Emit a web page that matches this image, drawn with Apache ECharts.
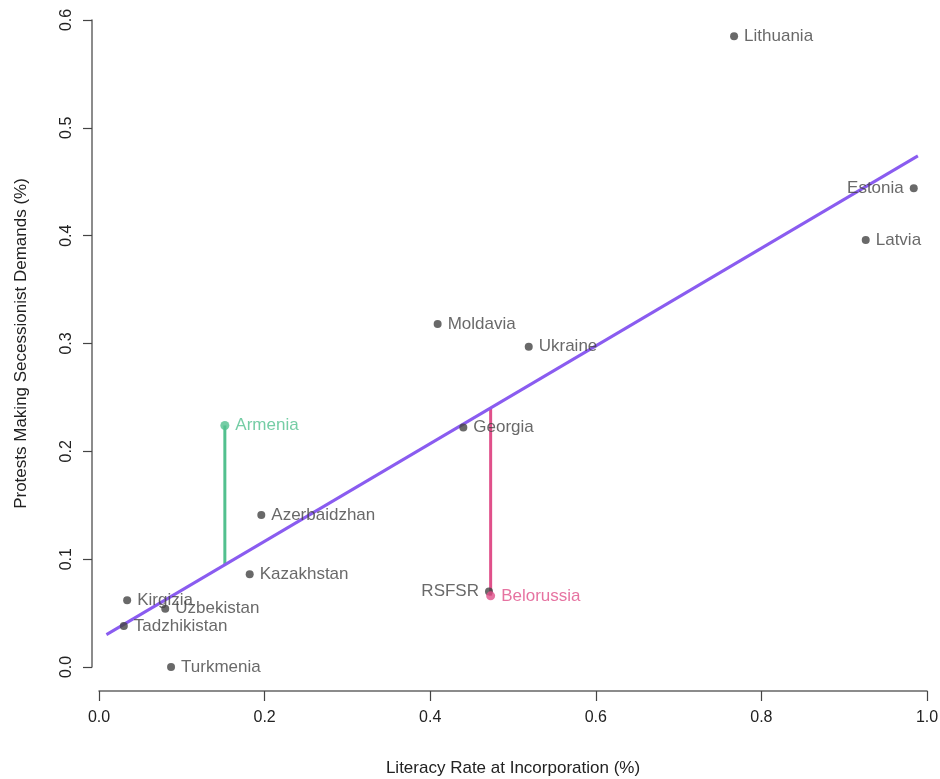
<!DOCTYPE html>
<html>
<head>
<meta charset="utf-8">
<script src="https://cdn.jsdelivr.net/npm/echarts@6/dist/echarts.min.js"></script>
<style>html,body{margin:0;padding:0;background:#fff}#c{width:940px;height:779px}</style>
</head>
<body>
<div id="c"></div>
<script>
// Data
const republics = ['Lithuania','Estonia','Latvia','Moldavia','Ukraine','Georgia','Azerbaidzhan','Kazakhstan','Kirgizia','Uzbekistan','Tadzhikistan','Turkmenia','RSFSR'];
const literacy  = [0.767, 0.984, 0.926, 0.409, 0.519, 0.440, 0.196, 0.182, 0.034, 0.080, 0.030, 0.087, 0.471];
const secession = [0.585, 0.444, 0.396, 0.318, 0.297, 0.222, 0.141, 0.086, 0.062, 0.054, 0.038, 0.000, 0.070];

const highlightNames = ['Armenia', 'Belorussia'];
const highlightX     = [0.152, 0.473];
const highlightY     = [0.224, 0.066];
const highlightFit   = [0.095, 0.240];

const fitX = [0.009, 0.989];
const fitY = [0.030, 0.474];

const xTicks = [0, 0.2, 0.4, 0.6, 0.8, 1.0];
const yTicks = [0, 0.1, 0.2, 0.3, 0.4, 0.5, 0.6];

// Styles
const FONT = 'Liberation Sans, Arial, Helvetica, sans-serif';
const GRAY = '#444444';
const PURPLE = '#8a5cf0';
const hlColors = ['#52c08e', '#e0508a'];
const leftLabeled = ['Estonia', 'RSFSR'];

const chart = echarts.init(document.getElementById('c'), null, {renderer: 'canvas'});

const grayData = republics.map((n, i) => ({
  name: n,
  value: [literacy[i], secession[i]],
  label: {position: leftLabeled.includes(n) ? 'left' : 'right'}
}));

const series = [];
series.push({
  type: 'line', data: fitX.map((x, i) => [x, fitY[i]]),
  symbol: 'none', lineStyle: {color: PURPLE, width: 3}, z: 3, silent: true, clip: false
});
highlightNames.forEach((n, i) => {
  series.push({
    type: 'line', data: [[highlightX[i], highlightY[i]], [highlightX[i], highlightFit[i]]],
    symbol: 'none', lineStyle: {color: hlColors[i], width: 3}, z: 2, silent: true, clip: false
  });
  series.push({
    type: 'scatter', symbolSize: 9, z: 5, clip: false,
    data: [{name: n, value: [highlightX[i], highlightY[i]]}],
    itemStyle: {color: hlColors[i]},
    label: {show: true, position: 'right', distance: 6, formatter: '{b}', color: hlColors[i], fontSize: 17, fontFamily: FONT}
  });
});
series.push({
  type: 'scatter', symbolSize: 8, z: 4, clip: false,
  data: grayData,
  itemStyle: {color: GRAY},
  label: {show: true, distance: 6, formatter: '{b}', color: GRAY, fontSize: 17, fontFamily: FONT}
});

chart.setOption({
  animation: false,
  backgroundColor: '#fff',
  grid: {left: 99, right: 13, top: 20, bottom: 112, containLabel: false, outerBoundsMode: 'none'},
  xAxis: {
    type: 'value', min: xTicks[0], max: xTicks[xTicks.length - 1], interval: 0.2,
    offset: 24,
    name: 'Literacy Rate at Incorporation (%)', nameLocation: 'middle', nameGap: 69,
    nameMoveOverlap: false,
    nameTextStyle: {color: '#222', fontSize: 17, fontFamily: FONT},
    axisLine: {show: true, onZero: false, lineStyle: {color: '#666', width: 1.5}},
    axisTick: {show: true, length: 10, lineStyle: {color: '#444', width: 1.2}},
    axisLabel: {color: '#222', fontSize: 16, fontFamily: FONT, margin: 19, formatter: v => v.toFixed(1)},
    splitLine: {show: false}
  },
  yAxis: {
    type: 'value', min: yTicks[0], max: yTicks[yTicks.length - 1], interval: 0.1,
    offset: 7,
    name: 'Protests Making Secessionist Demands (%)', nameLocation: 'middle', nameGap: 62,
    nameMoveOverlap: false,
    nameTextStyle: {color: '#222', fontSize: 17, fontFamily: FONT},
    axisLine: {show: true, onZero: false, lineStyle: {color: '#666', width: 1.5}},
    axisTick: {show: true, length: 9, lineStyle: {color: '#444', width: 1.2}},
    axisLabel: {color: '#222', fontSize: 16, fontFamily: FONT, margin: 17, rotate: 90, formatter: v => v.toFixed(1)},
    splitLine: {show: false}
  },
  series: series
});
</script>
</body>
</html>
